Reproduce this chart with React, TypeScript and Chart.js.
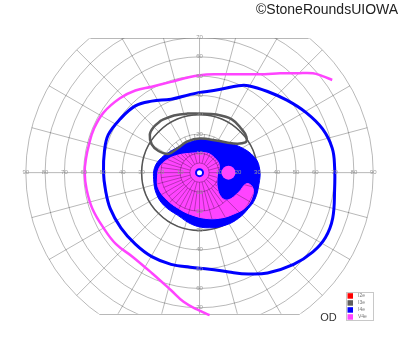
import React, { useEffect, useRef } from "react";
import { Chart, registerables } from "chart.js";

Chart.register(...registerables);

type P = [number, number];

// Isopters in degrees of visual field (x: temporal/nasal, y: superior/inferior)
const V4E_LINE: P[] = [
  [68.75, 48.25], [63.75, 50.25], [58.75, 51.75], [50.25, 51.75], [41.75, 51.75],
  [33.75, 51.25], [25.25, 51.25], [16.75, 51.25], [10.25, 51.25], [0.25, 50.75],
  [-7.25, 49.25], [-14.75, 47.25], [-24.75, 44.75], [-33.25, 42.75], [-41.25, 38.75],
  [-49.75, 31.25], [-54.75, 22.75], [-57.25, 14.75], [-58.75, 7.75], [-59.5, 0.25],
  [-58.5, -8.75], [-55.5, -18.75], [-49.75, -28.75], [-43.25, -37.25], [-34.75, -43.75],
  [-24.75, -52.25], [-14.75, -61.25], [-8.25, -67.25], [-1.25, -71.25], [5.25, -74.25],
];

const I4E_LINE: P[] = [
  [0.25, 41.75], [10.25, 43.25], [20.25, 45.25], [25.25, 45.25], [35.25, 42.25],
  [45.25, 37.75], [55.25, 31.25], [63.75, 22.75], [68.75, 12.75], [70.0, 2.75],
  [70.0, -8.75], [69.0, -23.75], [65.25, -33.75], [58.75, -41.25], [48.75, -47.75],
  [35.25, -52.25], [25.25, -52.75], [15.25, -51.75], [5.25, -50.25], [-4.75, -49.25],
  [-14.75, -47.75], [-24.75, -43.75], [-33.25, -37.25], [-40.75, -28.75], [-46.25, -18.75],
  [-48.75, -8.75], [-49.75, 0.25], [-49.25, 11.25], [-47.25, 19.75], [-41.25, 27.75],
  [-33.25, 34.75], [-24.75, 37.25], [-14.75, 38.25], [-4.75, 40.75],
];

const I3E_LINE: P[] = [
  [-19.75, 27.25], [-13.25, 29.75], [-6.25, 30.75], [0.25, 30.75], [8.75, 30.25],
  [16.75, 27.75], [21.75, 22.75], [24.25, 18.75], [23.75, 15.75], [16.75, 15.25],
  [8.75, 16.75], [0.25, 17.75], [-6.25, 16.25], [-11.25, 12.75], [-16.25, 9.75],
  [-21.25, 11.25], [-24.75, 14.75], [-25.75, 19.75], [-23.75, 23.75],
];

const I4E_AREA: P[] = [
  [-8.25, 14.75], [0.25, 17.25], [8.75, 16.75], [20.25, 13.75], [28.75, 7.75],
  [31.25, 1.25], [30.75, -6.25], [28.75, -13.75], [25.25, -18.75], [20.25, -23.75],
  [13.75, -27.25], [5.25, -28.75], [-3.25, -27.25], [-11.25, -22.25], [-18.25, -17.25],
  [-22.25, -11.25], [-23.75, -3.75], [-23.25, 2.75], [-19.75, 7.75], [-14.75, 11.25],
];

const V4E_AREA: P[] = [
  [-3.25, 10.25], [3.75, 10.25], [7.75, 7.75], [10.25, 3.75], [9.25, -1.25],
  [9.25, -7.75], [11.25, -12.75], [14.75, -14.25], [20.25, -10.25], [24.25, -5.75],
  [27.25, -7.25], [27.75, -11.25], [24.25, -17.75], [17.25, -21.75], [10.25, -23.75],
  [2.75, -23.75], [-4.75, -21.75], [-10.75, -18.75], [-16.75, -14.25], [-21.25, -8.25],
  [-21.75, -2.25], [-20.75, 2.75], [-16.75, 6.75], [-10.75, 9.25],
];

const V4E_SPOT: P[] = [[15, 0]];
const FIXATION: P[] = [[0, 0]];

const RINGS = [5, 10, 20, 30, 40, 50, 60, 70, 80, 90];
const H_LABELS = [10, 20, 30, 40, 50, 60, 70, 80, 90];
const V_LABELS = [10, 20, 30, 40, 50, 60, 70];
const MERIDIAN_STEP = 15;
const DENSE_STEP = 7.5;
const DENSE_FROM = 10;
const DENSE_TO = 20;
const FIELD_MAX = 90;
const FIELD_TOP = 70;
const FIELD_BOTTOM = -73.5;
const BOLD_RING = 30;

const LEGEND_LABELS = ["I2e", "I3e", "I4e", "V4e"];
const LEGEND_COLORS = ["#ff0000", "#5f5f5f", "#0000ff", "#ff44ff"];
const TITLE = "\u00A9StoneRoundsUIOWA";
const EYE = "OD";

const BLUE = "#0000ff";
const MAGENTA = "#ff44ff";
const GRAY = "#5a5a5a";
const GRID = "rgba(0,0,0,0.28)";

const toXY = (pts: P[], close: boolean) =>
  (close ? pts.concat([pts[0]]) : pts).map(([x, y]) => ({ x, y }));

function geom(chart: any) {
  const xs = chart.scales.x;
  const ys = chart.scales.y;
  const cx = xs.getPixelForValue(0);
  const cy = ys.getPixelForValue(0);
  const k = xs.getPixelForValue(1) - cx;
  return { xs, ys, cx, cy, k };
}

function drawGridLines(chart: any) {
  const ctx = chart.ctx as CanvasRenderingContext2D;
  const { ys, cx, cy, k } = geom(chart);
  const top = ys.getPixelForValue(FIELD_TOP);
  const bot = ys.getPixelForValue(FIELD_BOTTOM);
  ctx.save();
  ctx.beginPath();
  ctx.rect(0, top, chart.width, bot - top);
  ctx.clip();
  ctx.strokeStyle = GRID;
  ctx.lineWidth = 1;
  for (const r of RINGS) {
    ctx.beginPath();
    ctx.arc(cx, cy, r * k, 0, Math.PI * 2);
    ctx.stroke();
  }
  for (let a = 0; a < 360; a += MERIDIAN_STEP) {
    const t = (a * Math.PI) / 180;
    ctx.beginPath();
    ctx.moveTo(cx + Math.cos(t) * 5 * k, cy - Math.sin(t) * 5 * k);
    ctx.lineTo(cx + Math.cos(t) * FIELD_MAX * k, cy - Math.sin(t) * FIELD_MAX * k);
    ctx.stroke();
  }
  for (let a = 0; a < 360; a += DENSE_STEP) {
    if (a % MERIDIAN_STEP === 0) continue;
    const t = (a * Math.PI) / 180;
    ctx.beginPath();
    ctx.moveTo(cx + Math.cos(t) * DENSE_FROM * k, cy - Math.sin(t) * DENSE_FROM * k);
    ctx.lineTo(cx + Math.cos(t) * DENSE_TO * k, cy - Math.sin(t) * DENSE_TO * k);
    ctx.stroke();
  }
  ctx.restore();
}

const perimetryPlugin = {
  id: "perimetry",
  beforeDatasetsDraw(chart: any) {
    const ctx = chart.ctx as CanvasRenderingContext2D;
    const { ys, cx, cy, k } = geom(chart);
    drawGridLines(chart);
    ctx.save();
    ctx.strokeStyle = GRID;
    ctx.lineWidth = 1;
    for (const yv of [FIELD_TOP, FIELD_BOTTOM]) {
      const half = Math.sqrt(FIELD_MAX * FIELD_MAX - yv * yv) * k;
      const py = Math.round(ys.getPixelForValue(yv)) + 0.5;
      ctx.beginPath();
      ctx.moveTo(cx - half, py);
      ctx.lineTo(cx + half, py);
      ctx.stroke();
    }
    ctx.strokeStyle = "#555555";
    ctx.lineWidth = 1.5;
    ctx.beginPath();
    ctx.arc(cx, cy, BOLD_RING * k, 0, Math.PI * 2);
    ctx.stroke();
    ctx.restore();
  },
  afterDatasetsDraw(chart: any) {
    const ctx = chart.ctx as CanvasRenderingContext2D;
    const { cx, cy, k } = geom(chart);
    const meta = chart.getDatasetMeta(3);
    ctx.save();
    ctx.beginPath();
    let ok = false;
    try {
      if (meta.dataset && typeof meta.dataset.path === "function") {
        meta.dataset.path(ctx);
        ok = true;
      }
    } catch (e) {
      ok = false;
    }
    if (!ok) {
      ctx.beginPath();
      meta.data.forEach((pt: any, i: number) => {
        if (i === 0) ctx.moveTo(pt.x, pt.y);
        else ctx.lineTo(pt.x, pt.y);
      });
    }
    ctx.closePath();
    ctx.clip();
    drawGridLines(chart);
    ctx.restore();

    ctx.save();
    ctx.font = '6px "Liberation Sans", Arial, sans-serif';
    ctx.fillStyle = "#999999";
    ctx.textAlign = "center";
    ctx.textBaseline = "middle";
    for (const r of H_LABELS) {
      ctx.fillText(String(r), cx - r * k, cy - 0.5);
      ctx.fillText(String(r), cx + r * k, cy - 0.5);
    }
    for (const r of V_LABELS) {
      ctx.fillText(String(r), cx, cy - r * k);
      ctx.fillText(String(r), cx, cy + r * k);
    }
    ctx.restore();
  },
  afterDraw(chart: any) {
    const ctx = chart.ctx as CanvasRenderingContext2D;
    ctx.save();
    ctx.fillStyle = "#ffffff";
    ctx.fillRect(346, 292, 28, 29);
    ctx.strokeStyle = "#c8c8c8";
    ctx.lineWidth = 1;
    ctx.strokeRect(346.5, 292.5, 27, 28);
    ctx.font = '5px "Liberation Sans", Arial, sans-serif';
    ctx.textAlign = "left";
    ctx.textBaseline = "middle";
    LEGEND_LABELS.forEach((lab, i) => {
      const yc = 295.7 + i * 7;
      ctx.fillStyle = LEGEND_COLORS[i];
      ctx.fillRect(347.5, yc - 2.5, 5.5, 5.5);
      ctx.fillStyle = "#777777";
      ctx.fillText(lab, 358, yc + 0.3);
    });
    ctx.font = '11px "Liberation Sans", Arial, sans-serif';
    ctx.fillStyle = "#333333";
    ctx.textAlign = "center";
    ctx.textBaseline = "middle";
    ctx.fillText(EYE, 328.5, 317.5);
    ctx.font = '14px "Liberation Sans", Arial, sans-serif';
    ctx.textAlign = "left";
    ctx.textBaseline = "alphabetic";
    ctx.fillStyle = "#222222";
    ctx.fillText(TITLE, 256, 13.5);
    ctx.restore();
  },
};

export default function App() {
  const ref = useRef<HTMLCanvasElement | null>(null);
  useEffect(() => {
    if (!ref.current) return;
    const chart = new Chart(ref.current, {
      type: "line",
      data: {
        datasets: [
          {
            label: "fixation",
            data: toXY(FIXATION, false),
            showLine: false,
            pointRadius: 3.5,
            pointBorderWidth: 2,
            pointBorderColor: BLUE,
            pointBackgroundColor: "#ffffff",
          },
          {
            label: "I3e",
            data: toXY(I3E_LINE, true),
            borderColor: GRAY,
            borderWidth: 2.5,
            tension: 0.4,
            pointRadius: 0,
            fill: false,
          },
          {
            label: "V4e spot",
            data: toXY(V4E_SPOT, false),
            showLine: false,
            pointRadius: 7,
            pointBorderWidth: 0,
            pointBackgroundColor: MAGENTA,
            pointBorderColor: MAGENTA,
          },
          {
            label: "V4e area",
            data: toXY(V4E_AREA, true),
            borderColor: MAGENTA,
            backgroundColor: MAGENTA,
            borderWidth: 1,
            tension: 0.4,
            pointRadius: 0,
            fill: "shape",
          },
          {
            label: "I4e area",
            data: toXY(I4E_AREA, true),
            borderColor: BLUE,
            backgroundColor: BLUE,
            borderWidth: 1,
            tension: 0.4,
            pointRadius: 0,
            fill: "shape",
          },
          {
            label: "V4e",
            data: toXY(V4E_LINE, false),
            borderColor: MAGENTA,
            borderWidth: 2.5,
            tension: 0.4,
            pointRadius: 0,
            fill: false,
          },
          {
            label: "I4e",
            data: toXY(I4E_LINE, true),
            borderColor: BLUE,
            borderWidth: 3,
            tension: 0.4,
            pointRadius: 0,
            fill: false,
          },
        ] as any,
      },
      options: {
        responsive: false,
        maintainAspectRatio: false,
        animation: false,
        events: [],
        layout: { padding: 0 },
        scales: {
          x: { type: "linear", min: -99.75, max: 100.25, display: false },
          y: { type: "linear", min: -89.75, max: 86.25, display: false },
        },
        plugins: {
          legend: { display: false },
          tooltip: { enabled: false },
          title: { display: false },
        },
      } as any,
      plugins: [perimetryPlugin as any],
    });
    return () => chart.destroy();
  }, []);

  return (
    <div
      style={{
        position: "fixed",
        left: 0,
        top: 0,
        width: 400,
        height: 352,
        background: "#ffffff",
      }}
    >
      <canvas ref={ref} width={400} height={352} style={{ display: "block", width: 400, height: 352 }} />
    </div>
  );
}
